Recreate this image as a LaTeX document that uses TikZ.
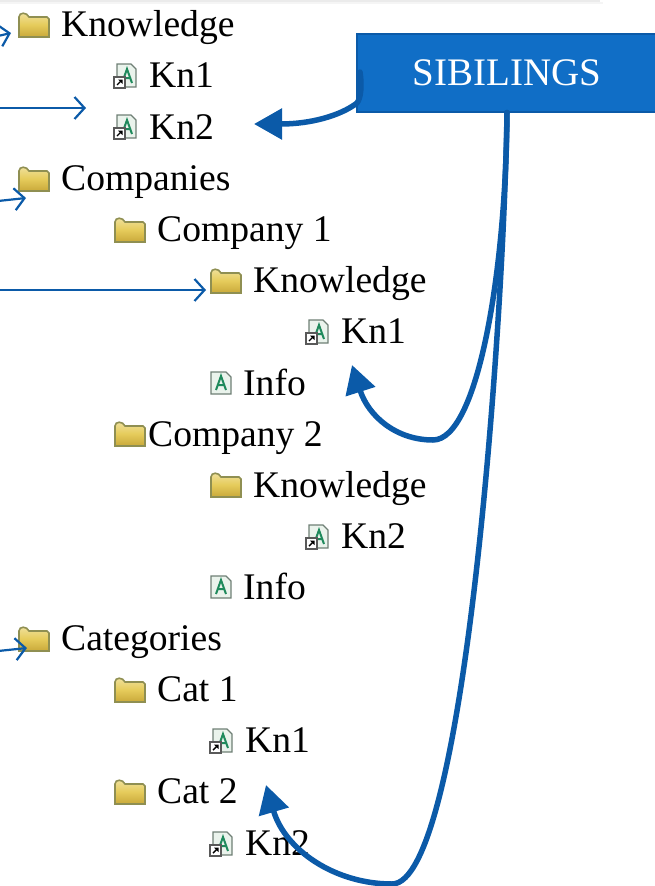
\documentclass[tikz,border=0pt]{standalone}
\usepackage{fontspec}
\setmainfont{Liberation Serif}
\usetikzlibrary{arrows.meta}
\definecolor{lineblue}{HTML}{0B5AA8}
\definecolor{boxblue}{HTML}{106EC6}
\definecolor{foldedge}{HTML}{8F8F52}
\definecolor{foldtop}{HTML}{F0E2A0}
\definecolor{foldmid}{HTML}{E6CC5C}
\definecolor{foldbot}{HTML}{C9A93A}
\definecolor{docedge}{HTML}{6F7F75}
\definecolor{docgreen}{HTML}{1F8A5C}
\definecolor{docfill}{HTML}{EAF3EC}
\tikzset{
  x=1pt,y=-1pt,
  label text/.style={anchor=base west,inner sep=0pt,font=\fontsize{37.6}{40}\selectfont,text=black},
  folder/.style={minimum width=34pt,minimum height=27pt,inner sep=0pt,
    path picture={
      \begin{scope}[shift={(path picture bounding box.center)}]
        \draw[foldedge,line width=1.6pt,top color=foldtop,bottom color=foldbot,middle color=foldmid]
          (-15,12) -- (-15,-8) .. controls (-15,-13) and (-7,-13) .. (-5,-8) -- (13,-8) -- (15,-6) -- (15,12) -- cycle;
      \end{scope}}},
  plaindoc/.style={minimum width=23pt,minimum height=26pt,inner sep=0pt,
    path picture={
      \begin{scope}[shift={(path picture bounding box.center)}]
        \draw[docedge,line width=1.2pt,fill=docfill] (-10,-11) -- (5,-11) -- (10,-6) -- (10,11) -- (-10,11) -- cycle;
        \draw[docgreen,line width=2pt] (-5,7) -- (0,-7) -- (5,7) (-3,2) -- (3,2);
      \end{scope}}},
  linkdoc/.style={minimum width=25pt,minimum height=27pt,inner sep=0pt,
    path picture={
      \begin{scope}[shift={(path picture bounding box.center)}]
        \draw[docedge,line width=1.2pt,fill=docfill] (-8,-12) -- (6,-12) -- (11,-7) -- (11,11) -- (-8,11) -- cycle;
        \draw[docgreen,line width=2pt] (-3,7) -- (2,-7) -- (7,7) (-1,2) -- (5,2);
        \draw[black!65,line width=1.1pt,fill=white] (-11,1) rectangle (0,12);
        \draw[black,line width=1.4pt] (-8,9) -- (-4,5);
        \fill[black] (-7,3.5) -- (-2.5,3.5) -- (-2.5,8) -- cycle;
      \end{scope}}},
  thin arrow/.style={draw=lineblue,line width=2.2pt,-{Straight Barb[length=10pt,width=22pt,line width=2.2pt]}},
  thick arrow/.style={draw=lineblue,line width=5.5pt,line cap=round,-{Triangle[length=28pt,width=30pt]}},
  title box/.style={draw=lineblue,line width=2pt,fill=boxblue,text=white,minimum width=300pt,minimum height=78pt,
    inner sep=0pt,font=\fontsize{39}{42}\selectfont},
}
\begin{document}
\begin{tikzpicture}
\useasboundingbox (0,0) rectangle (654,886);
% top shadow
\fill[black!8] (0,0) rectangle (600,2);
\fill[black!4] (0,2) rectangle (603,4);

% icons
\node[folder] (f1) at (34,25) {};
\node[linkdoc] (d1) at (125,76) {};
\node[linkdoc] (d2) at (125,127) {};
\node[folder] (f2) at (34,179) {};
\node[folder] (f3) at (130,230) {};
\node[folder] (f4) at (226,281) {};
\node[linkdoc] (d3) at (317,332) {};
\node[plaindoc] (d4) at (221,383) {};
\node[folder] (f5) at (130,434) {};
\node[folder] (f6) at (226,485) {};
\node[linkdoc] (d5) at (317,537) {};
\node[plaindoc] (d6) at (221,587) {};
\node[folder] (f7) at (34,639) {};
\node[folder] (f8) at (130,690) {};
\node[linkdoc] (d7) at (221,741) {};
\node[folder] (f9) at (130,792) {};
\node[linkdoc] (d8) at (221,844) {};

% labels
\node[label text] (t1) at (61,36) {Knowledge};
\node[label text] (t2) at (149,87) {Kn1};
\node[label text] (t3) at (149,139) {Kn2};
\node[label text] (t4) at (61,190) {Companies};
\node[label text] (t5) at (157,241) {Company 1};
\node[label text] (t6) at (253,292) {Knowledge};
\node[label text] (t7) at (341,343) {Kn1};
\node[label text] (t8) at (243,395) {Info};
\node[label text] (t9) at (148,446) {Company 2};
\node[label text] (t10) at (253,497) {Knowledge};
\node[label text] (t11) at (341,548) {Kn2};
\node[label text] (t12) at (243,599) {Info};
\node[label text] (t13) at (61,650) {Categories};
\node[label text] (t14) at (157,701) {Cat 1};
\node[label text] (t15) at (245,752) {Kn1};
\node[label text] (t16) at (157,803) {Cat 2};
\node[label text] (t17) at (245,855) {Kn2};

% title box
\node[title box] (sib) at (507,72.5) {SIBILINGS};

% free ends
\coordinate (a1) at (-2,36);
\coordinate (a1t) at (11,33);
\coordinate (a2) at (-2,108);
\coordinate (a2t) at (86,108);
\coordinate (a3) at (-2,201);
\coordinate (a3t) at (26,198);
\coordinate (a4) at (-2,290);
\coordinate (a4t) at (206,290);
\coordinate (a5) at (-2,651);
\coordinate (a5t) at (27,648);
\coordinate (hook) at (360,72);
\coordinate (k2t) at (254,124);
\coordinate (k1t) at (352,365);
\coordinate (c2t) at (266,785);

% thin arrows
\draw[thin arrow] (a1) -- (a1t);
\draw[thin arrow] (a2) -- (a2t);
\draw[thin arrow] (a3) -- (a3t);
\draw[thin arrow] (a4) -- (a4t);
\draw[thin arrow] (a5) -- (a5t);

% thick arrows
\draw[thick arrow] (hook) .. controls (362,85) and (361,98) .. (357,103) .. controls (340,116) and (310,124) .. (k2t);
\draw[thick arrow] (sib.south) .. controls (506,270) and (478,440) .. (433,440) .. controls (395,440) and (368,415) .. (k1t);
\draw[thick arrow] (sib.south) .. controls (504,320) and (465,884) .. (392,884) .. controls (335,884) and (285,850) .. (c2t);
\end{tikzpicture}
\end{document}
